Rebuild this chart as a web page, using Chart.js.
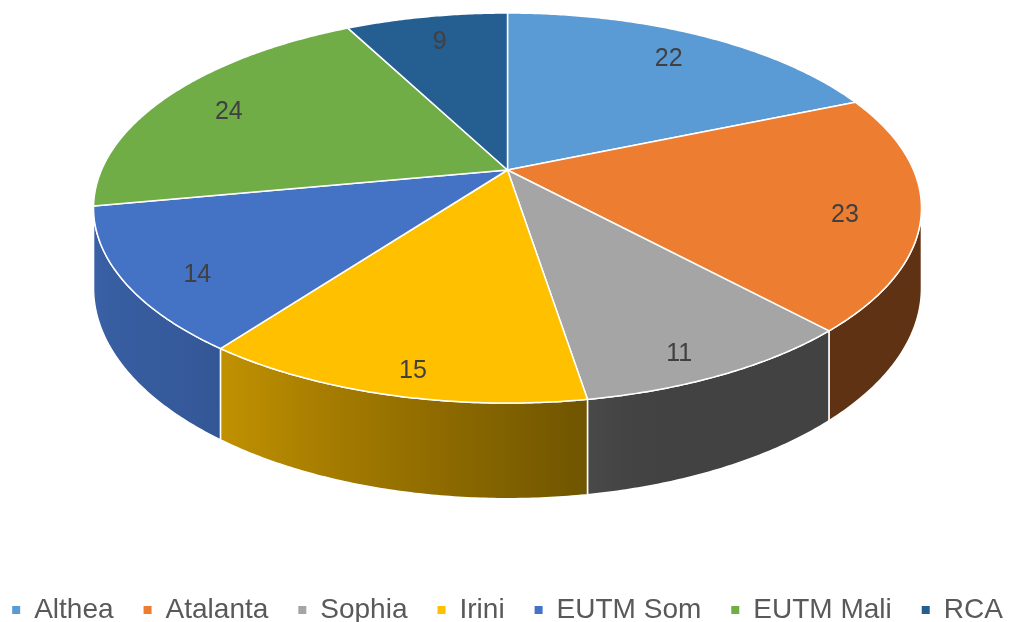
<!DOCTYPE html>
<html>
<head>
<meta charset="utf-8">
<script src="https://cdn.jsdelivr.net/npm/chart.js@4.4.1/dist/chart.umd.min.js"></script>
<style>
  body { margin: 0; background: #fff; }
  #wrap { width: 1015px; height: 622px; }
</style>
</head>
<body>
<div id="wrap"><canvas id="pie3d"></canvas></div>
<script>
var missions = ['Althea', 'Atalanta', 'Sophia', 'Irini', 'EUTM Som', 'EUTM Mali', 'RCA'];
var counts = [22, 23, 11, 15, 14, 24, 9];
var colors = ['#5B9BD5', '#ED7D31', '#A5A5A5', '#FFC000', '#4472C4', '#70AD47', '#255E91'];

// tilted disc seen in perspective (screen px)
var view = { rx: 406, ry: 187.6, persp: 0.195, depth: 77, apexY: 170 };

// drop: 0 = top face, 1 = bottom of the wall
function project(cx, a, fx, fy, drop) {
    var u = Math.cos(a) * fx, v = Math.sin(a) * fy;
    var w = 1 - view.persp * v;
    return {
        x: cx + view.rx * u / w,
        y: view.apexY + view.ry * v / w + drop * view.depth / w
    };
}

// side wall gets darker as it turns to the right
function shade(a) {
    var d = a * 180 / Math.PI;
    if (d <= 75) return 0.40;
    if (d <= 130) return 0.40 + (d - 75) / 55 * 0.38;
    return 0.78 + Math.min(1, (d - 130) / 50) * 0.10;
}

function darker(hex, f) {
    var n = parseInt(hex.slice(1), 16);
    var r = Math.round(((n >> 16) & 255) * f), g = Math.round(((n >> 8) & 255) * f), b = Math.round((n & 255) * f);
    return 'rgb(' + r + ',' + g + ',' + b + ')';
}

var pie3dPlugin = {
    id: 'pie3d',
    beforeDatasetsDraw: function (chart) {
        var ctx = chart.ctx;
        var arcs = chart.getDatasetMeta(0).data;
        var cx = (chart.chartArea.left + chart.chartArea.right) / 2;
        var step = Math.PI / 360;
        var visFrom = Math.asin(view.persp), visTo = Math.PI - visFrom;

        ctx.save();
        ctx.lineJoin = 'round';
        ctx.strokeStyle = '#ffffff';
        ctx.lineWidth = 1.5;

        // walls
        arcs.forEach(function (arc, i) {
            var a0 = Math.max(arc.startAngle, visFrom), a1 = Math.min(arc.endAngle, visTo);
            if (a1 <= a0) return;
            ctx.beginPath();
            var a, p;
            for (a = a0; a < a1; a += step) {
                p = project(cx, a, 1, 1, 0);
                ctx.lineTo(p.x, p.y);
            }
            p = project(cx, a1, 1, 1, 0); ctx.lineTo(p.x, p.y);
            for (a = a1; a > a0; a -= step) {
                p = project(cx, a, 1, 1, 1);
                ctx.lineTo(p.x, p.y);
            }
            p = project(cx, a0, 1, 1, 1); ctx.lineTo(p.x, p.y);
            ctx.closePath();

            var xr = project(cx, a0, 1, 1, 0).x, xl = project(cx, a1, 1, 1, 0).x;
            var grad = ctx.createLinearGradient(xl, 0, xr, 0);
            for (var s = 0; s <= 8; s++) {
                var aa = a1 - (a1 - a0) * s / 8;
                var t = (project(cx, aa, 1, 1, 0).x - xl) / (xr - xl);
                grad.addColorStop(Math.max(0, Math.min(1, t)), darker(colors[i], shade(aa)));
            }
            ctx.fillStyle = grad;
            ctx.fill();
            ctx.stroke();
        });

        // top faces
        arcs.forEach(function (arc, i) {
            ctx.beginPath();
            ctx.moveTo(cx, view.apexY);
            var p;
            for (var a = arc.startAngle; a < arc.endAngle; a += step) {
                p = project(cx, a, 1, 1, 0);
                ctx.lineTo(p.x, p.y);
            }
            p = project(cx, arc.endAngle, 1, 1, 0); ctx.lineTo(p.x, p.y);
            ctx.closePath();
            ctx.fillStyle = colors[i];
            ctx.fill();
            ctx.stroke();
        });

        // value labels
        ctx.fillStyle = '#404040';
        ctx.font = '25px "Liberation Sans", Arial, sans-serif';
        ctx.textAlign = 'center';
        ctx.textBaseline = 'middle';
        arcs.forEach(function (arc, i) {
            var mid = (arc.startAngle + arc.endAngle) / 2;
            var p = project(cx, mid, 0.82, 0.87, 0.12);
            ctx.fillText(String(counts[i]), p.x, p.y);
        });
        ctx.restore();
        return false;
    }
};

new Chart(document.getElementById('pie3d'), {
    type: 'pie',
    data: {
        labels: missions,
        datasets: [{
            data: counts,
            backgroundColor: colors,
            borderColor: '#ffffff',
            borderWidth: 0
        }]
    },
    options: {
        responsive: true,
        maintainAspectRatio: false,
        animation: false,
        // legend is wider than the canvas allows by default
        layout: { padding: { left: -22, right: -22, bottom: -12 } },
        plugins: {
            tooltip: { enabled: false },
            legend: {
                position: 'bottom',
                labels: {
                    usePointStyle: true,
                    pointStyle: 'rect',
                    boxWidth: 8,
                    boxHeight: 8,
                    padding: 30,
                    color: '#595959',
                    font: { size: 28, family: '"Liberation Sans", Arial, sans-serif' }
                }
            }
        }
    },
    plugins: [pie3dPlugin]
});
</script>
</body>
</html>
